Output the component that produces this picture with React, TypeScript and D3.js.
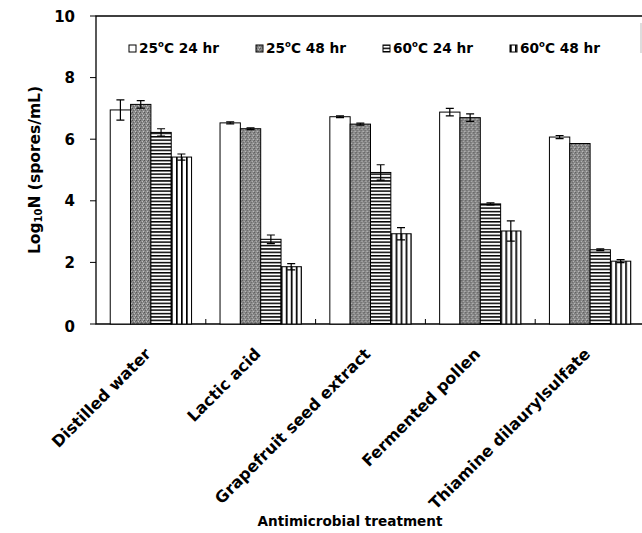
import React, { useEffect, useRef } from 'react';
import * as d3 from 'd3';

const treatments = ['Distilled water', 'Lactic acid', 'Grapefruit seed extract', 'Fermented pollen', 'Thiamine dilaurylsulfate'];
const conditions = ['25|24', '25|48', '60|24', '60|48'];
const conditionLabels = [['25', 'C 24 hr'], ['25', 'C 48 hr'], ['60', 'C 24 hr'], ['60', 'C 48 hr']];
const means = [
    [6.95, 7.13, 6.22, 5.42],
    [6.53, 6.34, 2.75, 1.86],
    [6.73, 6.49, 4.92, 2.93],
    [6.88, 6.7, 3.9, 3.02],
    [6.07, 5.86, 2.41, 2.04],
];
const errors = [
    [0.33, 0.12, 0.12, 0.1],
    [0.03, 0.03, 0.14, 0.1],
    [0.03, 0.03, 0.25, 0.2],
    [0.12, 0.12, 0.03, 0.33],
    [0.05, 0, 0.03, 0.05],
];
const yTicks = [0, 2, 4, 6, 8, 10];

const fills = ['#ffffff', 'url(#stipple)', 'url(#hstripe)', 'url(#vstripe)'];

const App = () => {
    const svgRef = useRef(null);

    useEffect(() => {
        const width = 642;
        const height = 533;
        const margin = { top: 16, right: -3, bottom: 209, left: 96 };
        const svg = d3.select(svgRef.current).attr('width', width).attr('height', height);
        svg.selectAll('*').remove();

        const font = 'DejaVu Sans, sans-serif';

        // fill patterns
        const defs = svg.append('defs');
        const st = defs.append('pattern').attr('id', 'stipple').attr('patternUnits', 'userSpaceOnUse')
            .attr('width', 4).attr('height', 4);
        st.append('rect').attr('width', 4).attr('height', 4).attr('fill', '#8a8a8a');
        [[0, 0, '#555'], [2, 1, '#bdbdbd'], [1, 2, '#666'], [3, 3, '#c4c4c4'], [3, 1, '#6e6e6e']].forEach(([x, y, c]) => {
            st.append('rect').attr('x', x).attr('y', y).attr('width', 1).attr('height', 1).attr('fill', c);
        });
        const hs = defs.append('pattern').attr('id', 'hstripe').attr('patternUnits', 'userSpaceOnUse')
            .attr('width', 4).attr('height', 3.4);
        hs.append('rect').attr('width', 4).attr('height', 3.4).attr('fill', '#fff');
        hs.append('rect').attr('width', 4).attr('height', 1.5).attr('fill', '#000');
        const vs = defs.append('pattern').attr('id', 'vstripe').attr('patternUnits', 'userSpaceOnUse')
            .attr('width', 5).attr('height', 4);
        vs.append('rect').attr('width', 5).attr('height', 4).attr('fill', '#fff');
        vs.append('rect').attr('width', 1.7).attr('height', 4).attr('fill', '#000');

        const x0 = d3.scaleBand().domain(treatments).range([margin.left, width - margin.right]);
        const x1 = d3.scaleBand().domain(conditions).range([0, x0.bandwidth()]).paddingInner(0).paddingOuter(0.7);
        const y = d3.scaleLinear().domain([0, 10]).range([height - margin.bottom, margin.top]);

        // frame
        svg.append('path')
            .attr('d', `M${width - margin.right},${margin.top}H${margin.left}V${y(0)}H${width - margin.right}`)
            .attr('fill', 'none').attr('stroke', '#000').attr('stroke-width', 1.3);

        const groups = svg.append('g').selectAll('g').data(treatments).join('g')
            .attr('transform', d => `translate(${x0(d)},0)`);

        groups.each(function (t, gi) {
            const g = d3.select(this);
            conditions.forEach((c, ci) => {
                const v = means[gi][ci];
                const bx = x1(c);
                const bw = x1.bandwidth();
                g.append('rect').attr('x', bx).attr('y', y(v)).attr('width', bw).attr('height', y(0) - y(v))
                    .attr('fill', fills[ci]).attr('stroke', '#000').attr('stroke-width', 1);
                const e = errors[gi][ci];
                if (e > 0) {
                    const cx = bx + bw / 2;
                    g.append('path')
                        .attr('d', `M${cx - 4},${y(v + e)}H${cx + 4}M${cx},${y(v + e)}V${y(v - e)}M${cx - 4},${y(v - e)}H${cx + 4}`)
                        .attr('stroke', '#000').attr('stroke-width', 1.2).attr('fill', 'none');
                }
            });
        });

        // category ticks between groups
        svg.append('g').selectAll('line').data(treatments.slice(1)).join('line')
            .attr('x1', d => x0(d)).attr('x2', d => x0(d))
            .attr('y1', y(0)).attr('y2', y(0) - 5).attr('stroke', '#000');

        // y axis
        const ya = svg.append('g');
        ya.selectAll('line').data(yTicks).join('line')
            .attr('x1', margin.left - 6).attr('x2', margin.left).attr('y1', d => y(d)).attr('y2', d => y(d))
            .attr('stroke', '#000');
        ya.selectAll('text').data(yTicks).join('text')
            .attr('x', 75).attr('y', d => y(d) + (d === 0 ? 8 : 5.5))
            .attr('text-anchor', 'end').attr('font-family', font).attr('font-weight', 'bold').attr('font-size', 15)
            .text(d => d);

        // y title
        const yt = svg.append('text').attr('transform', `translate(40,${(y(0) + y(10)) / 2}) rotate(-90)`)
            .attr('text-anchor', 'middle').attr('font-family', font).attr('font-weight', 'bold').attr('font-size', 15.5);
        yt.append('tspan').text('Log');
        yt.append('tspan').attr('font-size', 10).attr('dy', 2).text('10');
        yt.append('tspan').attr('dy', -2).text('N (spores/mL)');

        // x labels
        svg.append('g').selectAll('text').data(treatments).join('text')
            .attr('transform', d => `translate(${x0(d) + x0.bandwidth() / 2 + 1},${y(0) + 31}) rotate(-45)`)
            .attr('text-anchor', 'end').attr('font-family', font).attr('font-weight', 'bold').attr('font-size', 16)
            .text(d => d);

        svg.append('text').attr('x', 350).attr('y', 526).attr('text-anchor', 'middle')
            .attr('font-family', font).attr('font-weight', 'bold').attr('font-size', 13.6)
            .text('Antimicrobial treatment');

        // legend
        const lg = svg.append('g');
        lg.append('line').attr('x1', 641).attr('x2', 641).attr('y1', 23).attr('y2', 53).attr('stroke', '#bbb');
        conditionLabels.forEach((lab, i) => {
            const lx = 129 + i * 127;
            lg.append('rect').attr('x', lx).attr('y', 45).attr('width', 7).attr('height', 7)
                .attr('fill', fills[i]).attr('stroke', '#000').attr('stroke-width', 1);
            const t = lg.append('text').attr('x', lx + 10).attr('y', 53)
                .attr('font-family', font).attr('font-weight', 'bold').attr('font-size', 13.7);
            t.append('tspan').text(lab[0]);
            t.append('tspan').attr('font-size', 8.5).attr('dy', -6).text('o');
            t.append('tspan').attr('dy', 6).text(lab[1]);
        });
    }, []);

    return (
        <div>
            <svg ref={svgRef} style={{ position: 'absolute', left: 0, top: 0, background: '#fff' }}></svg>
        </div>
    );
};

export default App;
